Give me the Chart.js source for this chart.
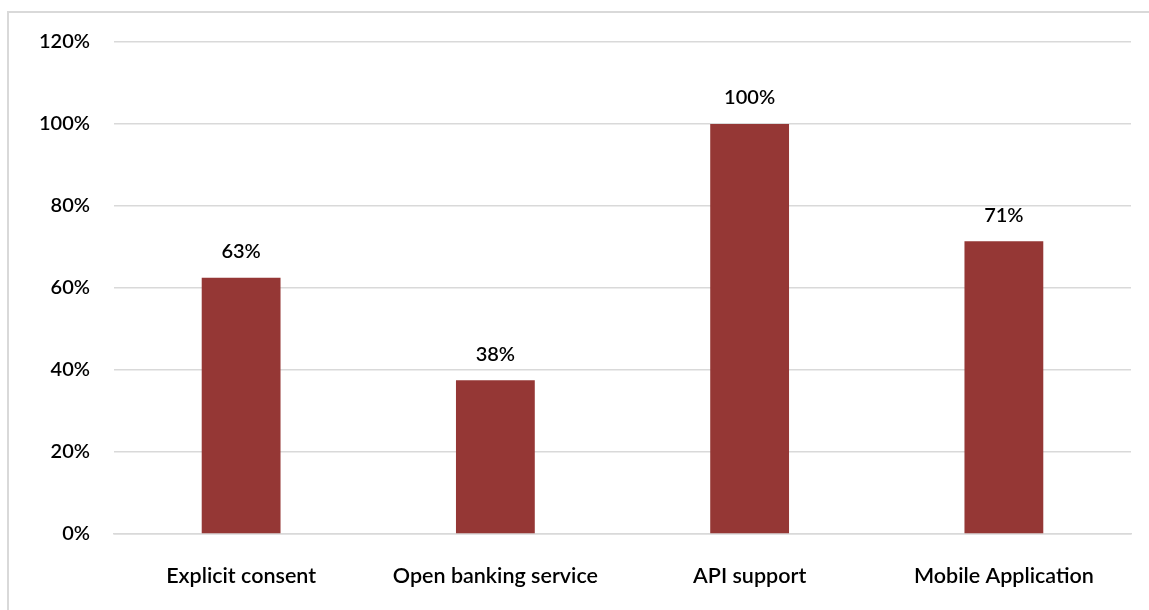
<!DOCTYPE html>
<html>
<head>
<meta charset="utf-8">
<script src="https://cdn.jsdelivr.net/npm/chart.js@4.4.0/dist/chart.umd.min.js"></script>
<style>
  body { margin: 0; background: #fff; }
  #frame { position: absolute; left: 7px; top: 11px; width: 1200px; height: 700px; border: 2px solid #d9d9d9; }
  #wrap { position: absolute; left: 0; top: 0; width: 1149px; height: 610px; }
</style>
</head>
<body>
<div id="frame"></div>
<div id="wrap"><canvas id="mycanvas" width="1149" height="610"></canvas></div>
<script>
var categories = ['Explicit consent', 'Open banking service', 'API support', 'Mobile Application'];
var values = [62.5, 37.5, 100, 71.4];
var yTicks = [0, 20, 40, 60, 80, 100, 120];

var barColor = '#953735';
var fontFamily = 'Lato, "Open Sans", sans-serif';

// draws the value labels over each bar
var valueLabels = {
    id: 'valueLabels',
    afterDatasetsDraw: function (chart) {
        var ctx = chart.ctx;
        var meta = chart.getDatasetMeta(0);
        ctx.save();
        ctx.font = '600 20px ' + fontFamily;
        ctx.fillStyle = '#000';
        ctx.textAlign = 'center';
        ctx.textBaseline = 'middle';
        meta.data.forEach(function (bar, i) {
            ctx.fillText(Math.round(values[i]) + '%', bar.x, bar.y - 26);
        });
        ctx.restore();
    }
};

var ctx = document.getElementById('mycanvas').getContext('2d');
var myChart = new Chart(ctx, {
    type: 'bar',
    data: {
        labels: categories,
        datasets: [{
            data: values,
            backgroundColor: barColor,
            borderWidth: 0,
            categoryPercentage: 1,
            barPercentage: 0.31
        }]
    },
    options: {
        responsive: false,
        animation: false,
        layout: {padding: {top: 42, right: 18, left: 0, bottom: 0}},
        plugins: {
            legend: {display: false},
            tooltip: {enabled: false}
        },
        scales: {
            y: {
                min: 0,
                max: 120,
                afterBuildTicks: function (axis) {
                    axis.ticks = yTicks.map(function (v) { return {value: v}; });
                },
                afterFit: function (axis) { axis.width = 114; },
                ticks: {
                    padding: 24,
                    color: '#000',
                    font: {size: 20, weight: '600', family: fontFamily},
                    callback: function (v) { return v + '%'; }
                },
                grid: {color: '#d9d9d9', lineWidth: 1.5, drawTicks: false},
                border: {display: false}
            },
            x: {
                afterFit: function (axis) { axis.height = 76; },
                ticks: {
                    padding: 21,
                    color: '#000',
                    font: {size: 21.5, weight: '600', family: fontFamily}
                },
                grid: {display: false},
                border: {display: true, color: '#d9d9d9', width: 1.5}
            }
        }
    },
    plugins: [valueLabels]
});
</script>
</body>
</html>
